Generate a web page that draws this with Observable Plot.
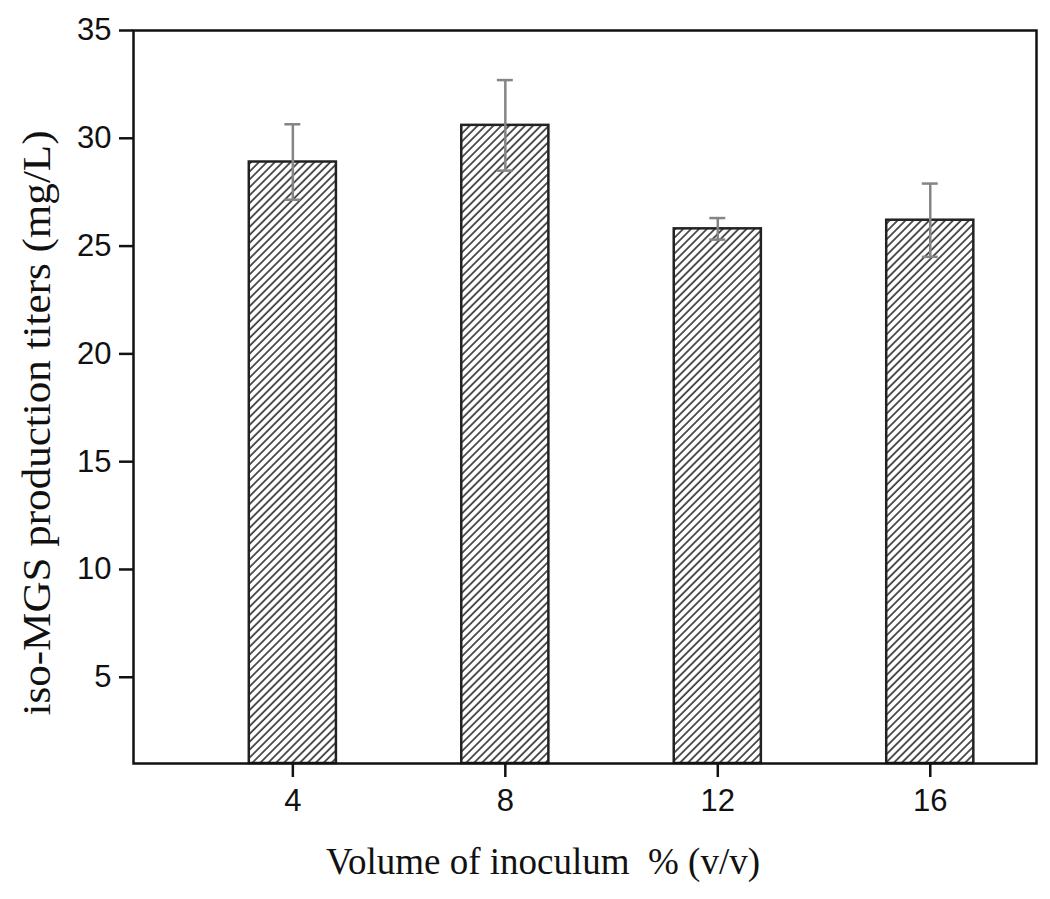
<!DOCTYPE html>
<html>
<head>
<meta charset="utf-8">
<script src="https://cdn.jsdelivr.net/npm/d3@7"></script>
<script src="https://cdn.jsdelivr.net/npm/@observablehq/plot@0.6"></script>
<style>
  html, body { margin: 0; padding: 0; background: #fff; }
  #chart { width: 1050px; height: 899px; }
</style>
</head>
<body>
<div id="chart"></div>
<script>
// Data
const inoculum = [4, 8, 12, 16];
const titer = [28.9, 30.6, 25.8, 26.2];
const errorSD = [1.75, 2.1, 0.5, 1.7];
const xTicks = [4, 8, 12, 16];
const yTicks = [5, 10, 15, 20, 25, 30, 35];
const xLabel = "Volume of inoculum\u00a0\u00a0% (v/v)";
const yLabel = "iso-MGS production titers (mg/L)";

const yMin = 1, yMax = 35;
const halfBar = 0.82, halfCap = 0.15;

const rows = inoculum.map((x, i) => ({
  x, v: titer[i], lo: titer[i] - errorSD[i], hi: titer[i] + errorSD[i]
}));

const serif = "'Liberation Serif', 'Times New Roman', serif";
const sans = "'Liberation Sans', Arial, sans-serif";

const svg = Plot.plot({
  width: 1050,
  height: 899,
  marginLeft: 133,
  marginRight: 14,
  marginTop: 30,
  marginBottom: 136,
  style: { fontFamily: sans, fontSize: "31px", color: "#111", background: "#fff" },
  x: { domain: [1, 18], label: null },
  y: { domain: [yMin, yMax], label: null },
  marks: [
    Plot.rect(rows, {
      x1: d => d.x - halfBar, x2: d => d.x + halfBar,
      y1: yMin, y2: "v",
      fill: "url(#hatch)", stroke: "#222", strokeWidth: 2.5
    }),
    Plot.ruleX(rows, { x: "x", y1: "lo", y2: "hi", stroke: "#858585", strokeWidth: 2.5 }),
    Plot.ruleY(rows, { y: "hi", x1: d => d.x - halfCap, x2: d => d.x + halfCap, stroke: "#858585", strokeWidth: 2.5 }),
    Plot.ruleY(rows, { y: "lo", x1: d => d.x - halfCap, x2: d => d.x + halfCap, stroke: "#858585", strokeWidth: 2.5 }),
    Plot.frame({ stroke: "#111", strokeWidth: 2.5 }),
    Plot.axisX({ ticks: xTicks, tickSize: 14, tickPadding: 11, strokeWidth: 2.5, label: null, fontSize: 31 }),
    Plot.axisY({ ticks: yTicks, tickSize: 14, tickPadding: 8, strokeWidth: 2.5, label: null, fontSize: 31 }),
    Plot.text([xLabel], {
      text: d => d, frameAnchor: "bottom", dx: -42, dy: 110,
      fontFamily: serif, fontSize: 37, fill: "#111"
    }),
    Plot.text([yLabel], {
      text: d => d, frameAnchor: "left", textAnchor: "middle", rotate: -90, dx: -96, dy: 26,
      fontFamily: serif, fontSize: 40, fill: "#111"
    })
  ]
});

// Hatch pattern definition
const defs = d3.select(svg).insert("defs", ":first-child");
const pat = defs.append("pattern")
  .attr("id", "hatch")
  .attr("patternUnits", "userSpaceOnUse")
  .attr("width", 5.6).attr("height", 5.6)
  .attr("patternTransform", "rotate(45)");
pat.append("rect").attr("width", 5.6).attr("height", 5.6).attr("fill", "#fff");
pat.append("line").attr("x1", 1).attr("y1", 0).attr("x2", 1).attr("y2", 5.6)
  .attr("stroke", "#3a3a3a").attr("stroke-width", 1.7);

// The reference's y-axis title is stretched along its length
d3.select(svg).selectAll("text")
  .filter(function () { return this.textContent === yLabel; })
  .attr("textLength", 585)
  .attr("lengthAdjust", "spacingAndGlyphs");

document.getElementById("chart").appendChild(svg);
</script>
</body>
</html>
